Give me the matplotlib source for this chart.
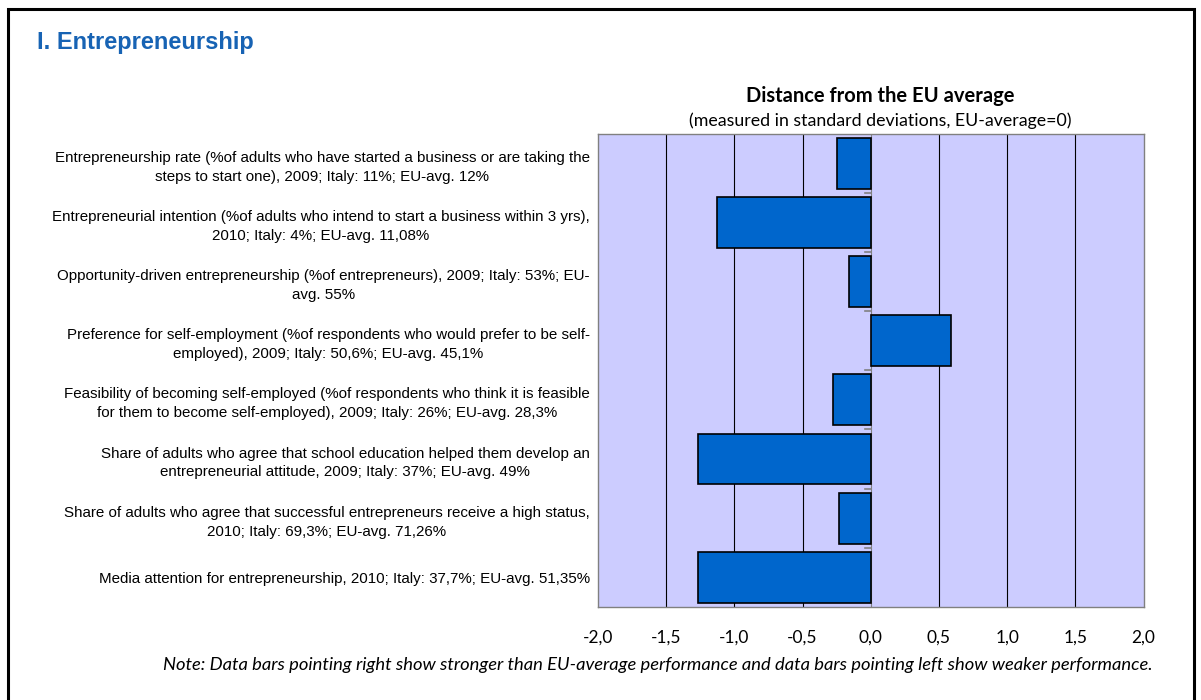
import matplotlib
matplotlib.use("Agg")
import matplotlib.pyplot as plt
from matplotlib.patches import Rectangle
from matplotlib.ticker import FuncFormatter

# Indicator labels (top to bottom) and distance from EU average in std deviations
indicators = [
    "Entrepreneurship rate (%of adults who have started a business or are taking the\nsteps to start one), 2009; Italy: 11%; EU-avg. 12%",
    "Entrepreneurial intention (%of adults who intend to start a business within 3 yrs),\n2010; Italy: 4%; EU-avg. 11,08%",
    "Opportunity-driven entrepreneurship (%of entrepreneurs), 2009; Italy: 53%; EU-\navg. 55%",
    "Preference for self-employment (%of respondents who would prefer to be self-\nemployed), 2009; Italy: 50,6%; EU-avg. 45,1%",
    "Feasibility of becoming self-employed (%of respondents who think it is feasible\nfor them to become self-employed), 2009; Italy: 26%; EU-avg. 28,3%",
    "Share of adults who agree that school education helped them develop an\nentrepreneurial attitude, 2009; Italy: 37%; EU-avg. 49%",
    "Share of adults who agree that successful entrepreneurs receive a high status,\n2010; Italy: 69,3%; EU-avg. 71,26%",
    "Media attention for entrepreneurship, 2010; Italy: 37,7%; EU-avg. 51,35%",
]
distance = [-0.25, -1.13, -0.16, 0.59, -0.28, -1.27, -0.23, -1.27]

x_ticks = [-2.0, -1.5, -1.0, -0.5, 0.0, 0.5, 1.0, 1.5, 2.0]

W, H = 1201, 700
fig = plt.figure(figsize=(W / 100, H / 100), dpi=100)
fig.patch.set_facecolor("white")

# outer frame
fig.patches.append(Rectangle((8 / W, -0.05), (1194 - 8) / W, 1.05 - 9 / H,
                             transform=fig.transFigure, fill=False,
                             edgecolor="black", linewidth=2.2))
fig.text(37 / W, 1 - 43 / H, "I. Entrepreneurship", color="#1763B4",
         fontsize=17, fontweight="bold", family="Liberation Sans",
         ha="left", va="center")

ax = fig.add_axes([598 / W, 1 - 607 / H, (1143.5 - 598) / W, (607 - 133.5) / H])
ax.set_facecolor("#CCCCFF")

pos = list(range(len(indicators)))
ax.barh(pos, distance, height=0.86, color="#0066CC", edgecolor="black",
        linewidth=1.2, zorder=3)

ax.set_xlim(x_ticks[0], x_ticks[-1])
ax.set_ylim(len(indicators) - 0.5, -0.5)
ax.set_xticks(x_ticks)
ax.xaxis.set_major_formatter(FuncFormatter(lambda v, p: f"{v:.1f}".replace(".", ",")))
for v in x_ticks[1:-1]:
    if v != 0:
        ax.axvline(v, color="black", linewidth=0.8, zorder=1)
ax.axvline(0, color="#808080", linewidth=0.8, zorder=2)
# small category separators along the zero line
for b in range(len(indicators) - 1):
    ax.plot([-0.04, 0], [b + 0.5, b + 0.5], color="#808080", linewidth=1.2, zorder=2)

ax.set_yticks(pos)
ax.set_yticklabels(indicators, family="Liberation Sans", fontsize=10.9,
                   multialignment="center", linespacing=1.45)
ax.tick_params(axis="y", length=0, pad=6)
ax.tick_params(axis="x", length=0, pad=16, labelsize=12.5)
for lbl in ax.get_xticklabels():
    lbl.set_family("Lato")
for s in ax.spines.values():
    s.set_color("#808080")
    s.set_linewidth(1)

fig.text(880 / W, 1 - 96 / H, "Distance from the EU average", family="Lato",
         fontweight="bold", fontsize=14.5, ha="center", va="center")
fig.text(880 / W, 1 - 121 / H, "(measured in standard deviations, EU-average=0)",
         family="Lato", fontsize=12.8, ha="center", va="center")
fig.text(658 / W, 1 - 665 / H,
         "Note: Data bars pointing right show stronger than EU-average performance and data bars pointing left show weaker performance.",
         family="Lato", style="italic", fontsize=13.2, ha="center", va="center")

fig.savefig("out.png", dpi=100)
